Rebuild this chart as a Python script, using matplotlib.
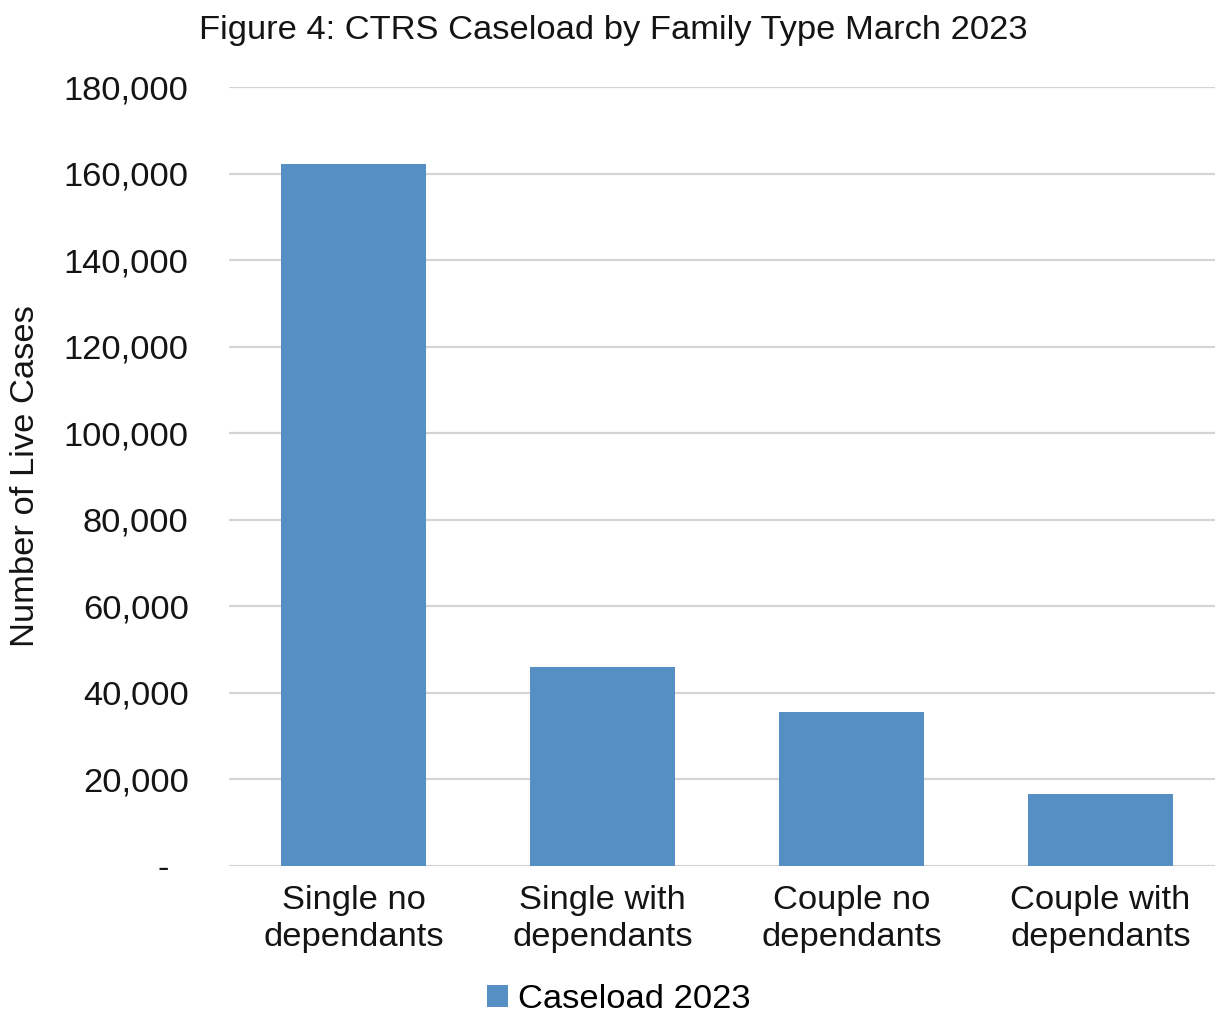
import matplotlib.pyplot as plt
from matplotlib.ticker import FuncFormatter

# data
categories = ["Single no\ndependants", "Single with\ndependants",
              "Couple no\ndependants", "Couple with\ndependants"]
caseload_2023 = [162200, 46050, 35500, 16570]
y_ticks = [0, 20000, 40000, 60000, 80000, 100000, 120000, 140000, 160000, 180000]

plt.rcParams['font.family'] = ['Liberation Sans', 'DejaVu Sans']
FS = 24.8

W, H = 1215, 1016
fig = plt.figure(figsize=(W / 100, H / 100), dpi=100)
# plot area in pixels: left 229, right 1225 (runs past the edge), top 87, bottom 866
ax = fig.add_axes([229 / W, (H - 866) / H, (1225 - 229) / W, (866 - 87) / H])

x = range(len(categories))
ax.bar(x, caseload_2023, width=0.58, color='#558fc4', label='Caseload 2023', zorder=3)

ax.set_xlim(-0.5, len(categories) - 0.5)
ax.set_ylim(0, 180000)
ax.set_yticks(y_ticks)
# accounting style: zero shown as a dash, padded like Excel does
ax.yaxis.set_major_formatter(FuncFormatter(lambda v, p: '-  ' if v == 0 else f'{int(v):,}'))
ax.set_xticks(list(x))
ax.set_xticklabels(categories, fontsize=FS, linespacing=1.24)

ax.grid(axis='y', color='#d4d4d4', linewidth=1.6, zorder=0)
for s in ax.spines.values():
    s.set_visible(False)
ax.tick_params(axis='both', length=0, labelsize=FS, colors='#141414')
ax.tick_params(axis='y', pad=29)
ax.tick_params(axis='x', pad=14)

ax.set_ylabel('Number of Live Cases', fontsize=FS, color='#141414', labelpad=16)
fig.text(613 / W, 1 - 30 / H, 'Figure 4: CTRS Caseload by Family Type March 2023',
         ha='center', va='center', fontsize=FS, color='#141414')

fig.legend(loc='center', bbox_to_anchor=(619 / W, 1 - 1000 / H), frameon=False,
           fontsize=FS, handlelength=0.6, handleheight=0.6, handletextpad=0.3)

plt.savefig('out.png', dpi=100)
plt.close()
